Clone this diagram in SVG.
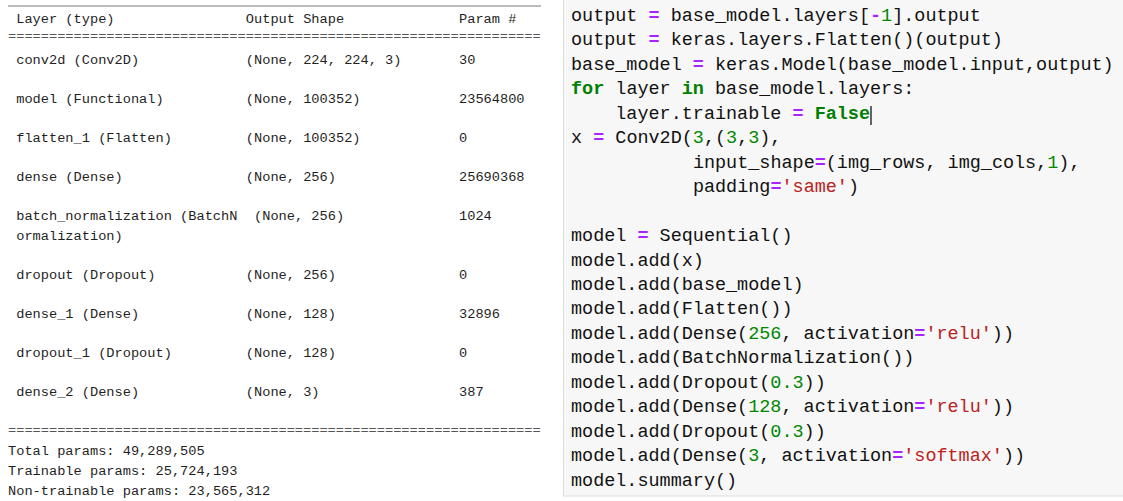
<svg xmlns="http://www.w3.org/2000/svg" width="1123" height="501" viewBox="0 0 1123 501" xml:space="preserve">
  <style>
    .t { font-family: "Liberation Mono", "DejaVu Sans Mono", monospace; font-size: 13.67px; fill: #1f1f1f; }
    .rule { font-family: "Liberation Mono", "DejaVu Sans Mono", monospace; font-size: 13.67px; fill: #555; }
    .c { font-family: "Liberation Mono", "DejaVu Sans Mono", monospace; font-size: 18.47px; fill: #111; }
    .op { fill: #AA22FF; font-weight: bold; }
    .kw { fill: #008000; font-weight: bold; }
    .num { fill: #008800; }
    .str { fill: #BA2121; }
  </style>
  <rect x="0" y="0" width="1123" height="501" fill="#ffffff"/>

  <!-- model.summary() output -->
  <g id="summary">
    <!-- underscore rule at the top of the table -->
    <line x1="8" y1="6" x2="541" y2="6" stroke="#777" stroke-width="1"/>
    <text class="t" x="16.2" y="23">Layer (type)</text>
    <text class="t" x="245.8" y="23">Output Shape</text>
    <text class="t" x="459" y="23">Param #</text>
    <text class="rule" x="8" y="40">=================================================================</text>

    <text class="t" x="16.2" y="63.5">conv2d (Conv2D)</text>
    <text class="t" x="245.8" y="63.5">(None, 224, 224, 3)</text>
    <text class="t" x="459" y="63.5">30</text>

    <text class="t" x="16.2" y="102.5">model (Functional)</text>
    <text class="t" x="245.8" y="102.5">(None, 100352)</text>
    <text class="t" x="459" y="102.5">23564800</text>

    <text class="t" x="16.2" y="141.5">flatten_1 (Flatten)</text>
    <text class="t" x="245.8" y="141.5">(None, 100352)</text>
    <text class="t" x="459" y="141.5">0</text>

    <text class="t" x="16.2" y="180.5">dense (Dense)</text>
    <text class="t" x="245.8" y="180.5">(None, 256)</text>
    <text class="t" x="459" y="180.5">25690368</text>

    <text class="t" x="16.2" y="219.5">batch_normalization (BatchN</text>
    <text class="t" x="254" y="219.5">(None, 256)</text>
    <text class="t" x="459" y="219.5">1024</text>
    <text class="t" x="16.2" y="239.5">ormalization)</text>

    <text class="t" x="16.2" y="278.5">dropout (Dropout)</text>
    <text class="t" x="245.8" y="278.5">(None, 256)</text>
    <text class="t" x="459" y="278.5">0</text>

    <text class="t" x="16.2" y="317.5">dense_1 (Dense)</text>
    <text class="t" x="245.8" y="317.5">(None, 128)</text>
    <text class="t" x="459" y="317.5">32896</text>

    <text class="t" x="16.2" y="357">dropout_1 (Dropout)</text>
    <text class="t" x="245.8" y="357">(None, 128)</text>
    <text class="t" x="459" y="357">0</text>

    <text class="t" x="16.2" y="396">dense_2 (Dense)</text>
    <text class="t" x="245.8" y="396">(None, 3)</text>
    <text class="t" x="459" y="396">387</text>

    <text class="rule" x="8" y="434">=================================================================</text>
    <text class="t" x="8" y="454.5">Total params: 49,289,505</text>
    <text class="t" x="8" y="474.5">Trainable params: 25,724,193</text>
    <text class="t" x="8" y="495">Non-trainable params: 23,565,312</text>
  </g>

  <!-- notebook code cell -->
  <g id="code">
    <rect x="563.5" y="-1" width="562" height="497" fill="#f7f7f7" stroke="#dcdcdc" stroke-width="1"/>
    <text class="c" x="571" y="21">output <tspan class="op">=</tspan> base_model.layers[<tspan class="op">-</tspan><tspan class="num">1</tspan>].output</text>
    <text class="c" x="571" y="45.45">output <tspan class="op">=</tspan> keras.layers.Flatten()(output)</text>
    <text class="c" x="571" y="69.9">base_model <tspan class="op">=</tspan> keras.Model(base_model.input,output)</text>
    <text class="c" x="571" y="94.35"><tspan class="kw">for</tspan> layer <tspan class="kw">in</tspan> base_model.layers:</text>
    <text class="c" x="615.3" y="118.8">layer.trainable <tspan class="op">=</tspan> <tspan class="kw">False</tspan></text>
    <line x1="871" y1="106" x2="871" y2="125" stroke="#000" stroke-width="1.2"/>
    <text class="c" x="571" y="143.25">x <tspan class="op">=</tspan> Conv2D(<tspan class="num">3</tspan>,(<tspan class="num">3</tspan>,<tspan class="num">3</tspan>),</text>
    <text class="c" x="692.9" y="167.7">input_shape<tspan class="op">=</tspan>(img_rows, img_cols,<tspan class="num">1</tspan>),</text>
    <text class="c" x="692.9" y="192.15">padding<tspan class="op">=</tspan><tspan class="str">'same'</tspan>)</text>

    <text class="c" x="571" y="241.05">model <tspan class="op">=</tspan> Sequential()</text>
    <text class="c" x="571" y="265.5">model.add(x)</text>
    <text class="c" x="571" y="289.95">model.add(base_model)</text>
    <text class="c" x="571" y="314.4">model.add(Flatten())</text>
    <text class="c" x="571" y="338.85">model.add(Dense(<tspan class="num">256</tspan>, activation<tspan class="op">=</tspan><tspan class="str">'relu'</tspan>))</text>
    <text class="c" x="571" y="363.3">model.add(BatchNormalization())</text>
    <text class="c" x="571" y="387.75">model.add(Dropout(<tspan class="num">0.3</tspan>))</text>
    <text class="c" x="571" y="412.2">model.add(Dense(<tspan class="num">128</tspan>, activation<tspan class="op">=</tspan><tspan class="str">'relu'</tspan>))</text>
    <text class="c" x="571" y="436.65">model.add(Dropout(<tspan class="num">0.3</tspan>))</text>
    <text class="c" x="571" y="461.1">model.add(Dense(<tspan class="num">3</tspan>, activation<tspan class="op">=</tspan><tspan class="str">'softmax'</tspan>))</text>
    <text class="c" x="571" y="485.55">model.summary()</text>
  </g>
</svg>
